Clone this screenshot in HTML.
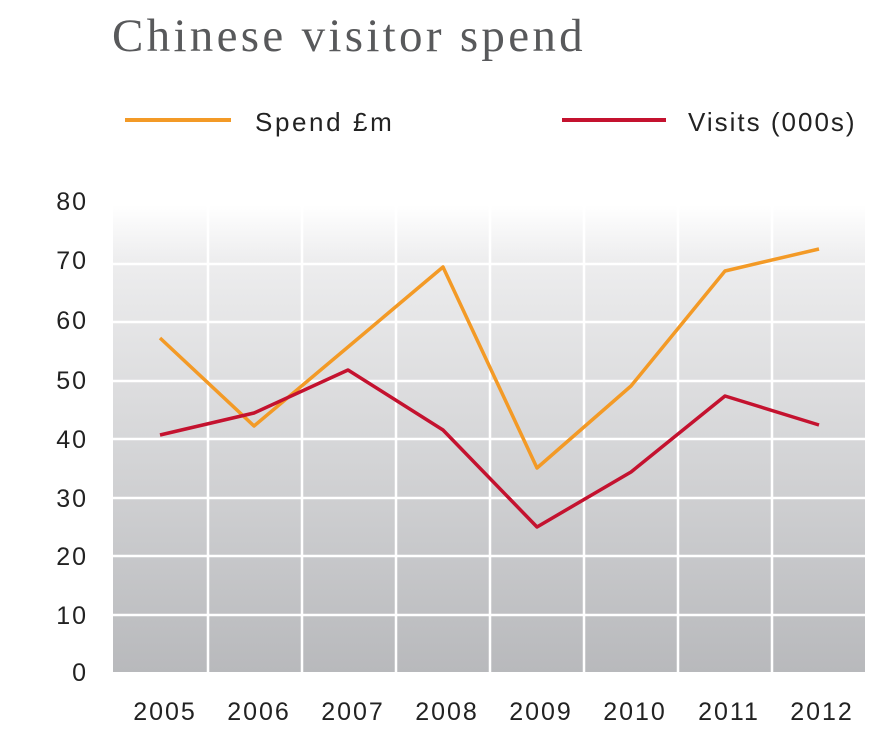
<!DOCTYPE html>
<html><head><meta charset="utf-8"><style>
body{margin:0;background:#fff;width:891px;height:747px;overflow:hidden}
</style></head><body>
<svg width="891" height="747" xmlns="http://www.w3.org/2000/svg">
<defs><linearGradient id="g" x1="0" y1="0" x2="0" y2="1">
<stop offset="0" stop-color="#ffffff"/><stop offset="0.12" stop-color="#ededee"/><stop offset="1" stop-color="#b8b9bc"/></linearGradient></defs>
<text x="112" y="51" font-family="Liberation Serif, serif" font-size="47" letter-spacing="3.3" fill="#58595b">Chinese visitor spend</text>
<line x1="125" y1="120" x2="231" y2="120" stroke="#f39a26" stroke-width="4"/>
<text x="255" y="131" font-family="Liberation Sans, sans-serif" font-size="26" letter-spacing="2.6" fill="#222">Spend £m</text>
<line x1="562" y1="120" x2="666" y2="120" stroke="#c4122f" stroke-width="4"/>
<text x="688" y="131" font-family="Liberation Sans, sans-serif" font-size="26" letter-spacing="2" fill="#222">Visits (000s)</text>
<rect x="113" y="205" width="752" height="467" fill="url(#g)"/>
<g stroke="#fff" stroke-width="2.5">
<line x1="113" y1="264" x2="865" y2="264"/><line x1="113" y1="322" x2="865" y2="322"/>
<line x1="113" y1="381" x2="865" y2="381"/><line x1="113" y1="439" x2="865" y2="439"/>
<line x1="113" y1="498" x2="865" y2="498"/><line x1="113" y1="556" x2="865" y2="556"/>
<line x1="113" y1="615" x2="865" y2="615"/>
<line x1="208" y1="205" x2="208" y2="672"/><line x1="302" y1="205" x2="302" y2="672"/>
<line x1="396" y1="205" x2="396" y2="672"/><line x1="490" y1="205" x2="490" y2="672"/>
<line x1="584" y1="205" x2="584" y2="672"/><line x1="678" y1="205" x2="678" y2="672"/>
<line x1="772" y1="205" x2="772" y2="672"/>
</g>
<polyline fill="none" stroke="#f39a26" stroke-width="3.5" stroke-linejoin="round" points="160,338 254,426 348,347 443,267 537,468 631,386 725,271 819,249"/>
<polyline fill="none" stroke="#c4122f" stroke-width="3.5" stroke-linejoin="round" points="160,435 254,413 348,370 443,430 537,527 631,472 725,396 819,425"/>
<g font-family="Liberation Sans, sans-serif" font-size="25" letter-spacing="2" fill="#222" text-anchor="end">
<text x="88" y="210">80</text><text x="88" y="269">70</text><text x="88" y="329">60</text>
<text x="88" y="389">50</text><text x="88" y="448">40</text><text x="88" y="507">30</text>
<text x="88" y="565">20</text><text x="88" y="624">10</text><text x="88" y="681">0</text>
</g>
<g font-family="Liberation Sans, sans-serif" font-size="25" letter-spacing="2" fill="#222" text-anchor="middle">
<text x="165" y="720">2005</text><text x="259" y="720">2006</text><text x="353" y="720">2007</text>
<text x="447" y="720">2008</text><text x="541" y="720">2009</text><text x="635" y="720">2010</text>
<text x="729" y="720">2011</text><text x="822" y="720">2012</text>
</g>
</svg>
</body></html>
